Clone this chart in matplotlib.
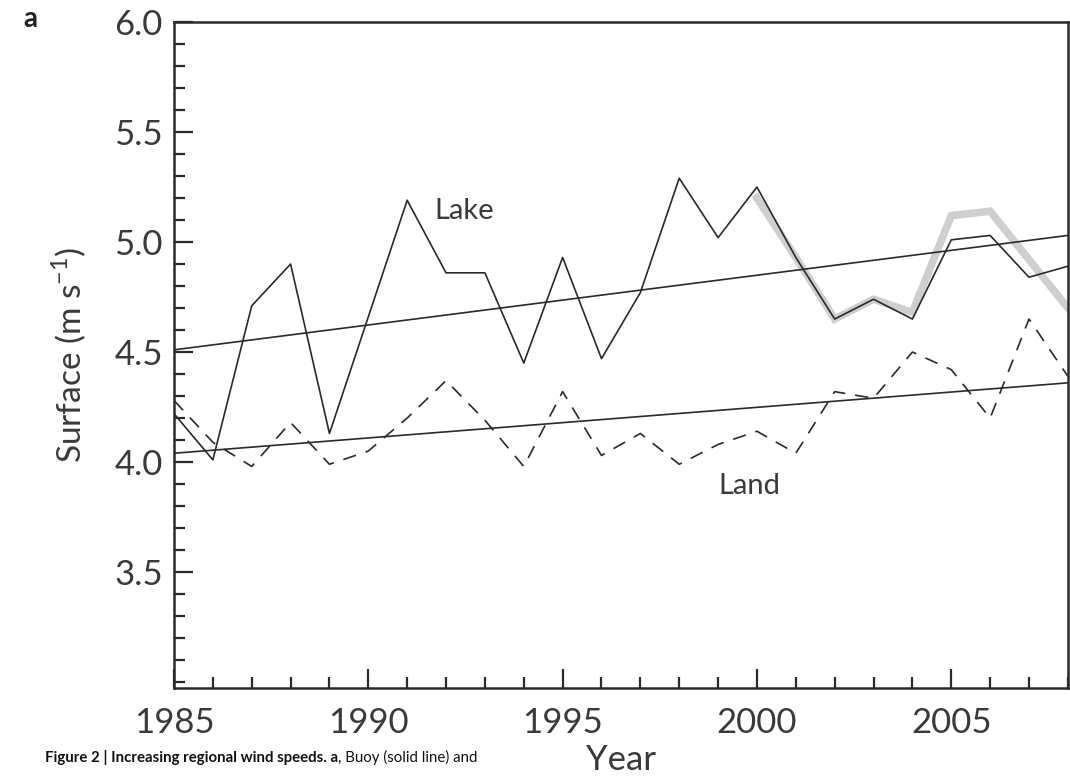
import matplotlib.pyplot as plt
from matplotlib.ticker import MultipleLocator

plt.rcParams['font.family'] = ['Lato', 'DejaVu Sans']
plt.rcParams['mathtext.fontset'] = 'custom'
plt.rcParams['mathtext.rm'] = 'Lato'

years = list(range(1985, 2009))

# buoy (solid line)
lake = [4.22, 4.01, 4.71, 4.90, 4.13, 4.66, 5.19, 4.86, 4.86, 4.45, 4.93, 4.47,
        4.77, 5.29, 5.02, 5.25, 4.93, 4.65, 4.74, 4.65, 5.01, 5.03, 4.84, 4.89]

# grey thick segment, 2000-2008
grey_years = list(range(2000, 2009))
grey = [5.20, 4.93, 4.65, 4.74, 4.68, 5.12, 5.14, 4.92, 4.70]

# land stations (dashed)
land = [4.28, 4.09, 3.98, 4.18, 3.99, 4.05, 4.20, 4.37, 4.19, 3.98, 4.32, 4.03,
        4.13, 3.99, 4.08, 4.14, 4.04, 4.32, 4.29, 4.50, 4.42, 4.20, 4.65, 4.39]

trend_years = [1985, 2008]
lake_trend = [4.51, 5.03]
land_trend = [4.04, 4.36]

txt = '#3a3a3a'

fig = plt.figure(figsize=(10.7, 7.77), dpi=100)
ax = fig.add_axes([0.1626, 0.1145, 0.8354, 0.8572])

ax.plot(grey_years, grey, color='#cfcfcf', lw=5.5, solid_joinstyle='miter', zorder=1)
ax.plot(years, lake, color='#2a2a2a', lw=1.2, zorder=2)
ax.plot(years, land, color='#2a2a2a', lw=1.2, linestyle=(0, (8, 6)), zorder=2)
ax.plot(trend_years, lake_trend, color='#2a2a2a', lw=1.2, zorder=2)
ax.plot(trend_years, land_trend, color='#2a2a2a', lw=1.2, zorder=2)

ax.text(1991.7, 5.14, 'Lake', fontsize=21, color=txt, va='center')
ax.text(1999.0, 3.89, 'Land', fontsize=21, color=txt, va='center')

ax.set_xlim(1985, 2008)
ax.set_ylim(2.973, 6.0)
ax.xaxis.set_major_locator(MultipleLocator(5))
ax.xaxis.set_minor_locator(MultipleLocator(1))
ax.set_yticks([3.5, 4.0, 4.5, 5.0, 5.5, 6.0])
ax.yaxis.set_minor_locator(MultipleLocator(0.1))
ax.tick_params(which='both', direction='in', color='#2a2a2a', width=1.6)
ax.tick_params(which='major', length=14, labelsize=25, labelcolor=txt, pad=8)
ax.tick_params(axis='x', which='major', pad=14)
ax.tick_params(which='minor', length=8)
for s in ax.spines.values():
    s.set_linewidth(1.8)
    s.set_color('#2a2a2a')

ax.set_xlabel('Year', fontsize=25, color=txt)
ax.xaxis.set_label_coords(0.5, -0.084)
ax.set_ylabel('Surface (m s$^{-1}$)', fontsize=24, color=txt)
ax.yaxis.set_label_coords(-0.095, 0.5)

fig.text(0.022, 0.965, 'a', fontsize=20, fontweight='bold', color='#222222')
cap1 = fig.text(0.042, 0.019, 'Figure 2 | Increasing regional wind speeds. a', fontsize=10.8,
                fontweight='bold', color='#111111')
fig.canvas.draw()
bb = cap1.get_window_extent().transformed(fig.transFigure.inverted())
fig.text(bb.x1, 0.019, ', Buoy (solid line) and', fontsize=10.8, color='#111111')

fig.savefig('out.png', dpi=100)
